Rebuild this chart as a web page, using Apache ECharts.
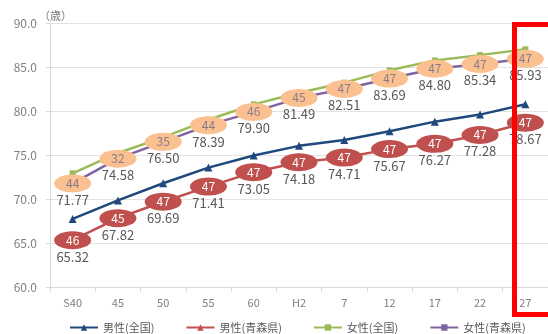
<!DOCTYPE html>
<html>
<head>
<meta charset="utf-8">
<script src="https://cdn.jsdelivr.net/npm/echarts@6/dist/echarts.min.js"></script>
<style>
  html, body { margin: 0; padding: 0; background: #fff; }
  #main { width: 548px; height: 334px; }
</style>
</head>
<body>
<div id="main"></div>
<script>
"use strict";
// 年次
var years = ['S40', '45', '50', '55', '60', 'H2', '7', '12', '17', '22', '27'];
// 平均寿命
var maleJapan = [67.74, 69.84, 71.79, 73.57, 74.95, 76.04, 76.70, 77.71, 78.79, 79.59, 80.77];
var maleAomori = [65.32, 67.82, 69.69, 71.41, 73.05, 74.18, 74.71, 75.67, 76.27, 77.28, 78.67];
var femaleJapan = [72.92, 75.23, 77.01, 79.00, 80.75, 82.07, 83.22, 84.62, 85.75, 86.35, 87.01];
var femaleAomori = [71.77, 74.58, 76.50, 78.39, 79.90, 81.49, 82.51, 83.69, 84.80, 85.34, 85.93];
// 全国順位
var maleRank = [46, 45, 47, 47, 47, 47, 47, 47, 47, 47, 47];
var femaleRank = [44, 32, 35, 44, 46, 45, 47, 47, 47, 47, 47];

var font = '"Noto Sans CJK JP", "Noto Sans", sans-serif';
var myChart = echarts.init(document.getElementById('main'));

function valueLabel() {
    return {
        show: true,
        position: 'bottom',
        distance: 7,
        color: '#595959',
        fontSize: 13,
        fontFamily: font,
        formatter: function (p) { return p.value.toFixed(2); }
    };
}

function rankSeries(name, values, ranks, bg, fg) {
    return {
        name: name,
        type: 'scatter',
        z: 4,
        symbol: 'circle',
        symbolSize: [37, 18],
        itemStyle: { color: bg, opacity: 1 },
        label: {
            show: true,
            position: 'inside',
            color: fg,
            fontSize: 12,
            fontFamily: font,
            formatter: function (p) { return String(ranks[p.dataIndex]); }
        },
        emphasis: { disabled: true },
        data: values
    };
}

var option = {
    animation: false,
    title: {
        text: '（歳）',
        left: 34,
        top: 5,
        textStyle: { fontSize: 11, color: '#7f7f7f', fontWeight: 'normal', fontFamily: font }
    },
    legend: {
        left: 64,
        top: 317,
        itemWidth: 28,
        itemHeight: 8,
        itemGap: 31,
        textStyle: { fontSize: 11, color: '#595959', fontFamily: font },
        data: ['男性(全国)', '男性(青森県)', '女性(全国)', '女性(青森県)']
    },
    grid: { left: 50, top: 23, width: 509, bottom: 47 },
    xAxis: {
        type: 'category',
        data: years,
        boundaryGap: true,
        axisLine: { lineStyle: { color: '#d9d9d9' } },
        axisTick: { show: true, lineStyle: { color: '#d9d9d9' }, length: 5 },
        axisLabel: { color: '#7f7f7f', fontSize: 11, fontFamily: font, margin: 10 }
    },
    yAxis: {
        type: 'value',
        min: 60,
        max: 90,
        interval: 5,
        axisLine: { show: true, lineStyle: { color: '#d9d9d9' } },
        axisTick: { show: true, lineStyle: { color: '#d9d9d9' }, length: 4 },
        splitLine: { lineStyle: { color: '#e3e3e3' } },
        axisLabel: {
            color: '#7f7f7f', fontSize: 12, fontFamily: font, margin: 13,
            formatter: function (v) { return v.toFixed(1); }
        }
    },
    series: [
        {
            name: '男性(全国)',
            type: 'line',
            data: maleJapan,
            symbol: 'triangle',
            symbolSize: 8,
            lineStyle: { color: '#1f497d', width: 2.5 },
            itemStyle: { color: '#1f497d' }
        },
        {
            name: '男性(青森県)',
            type: 'line',
            data: maleAomori,
            symbol: 'triangle',
            symbolSize: 6,
            lineStyle: { color: '#c0504d', width: 2.5 },
            itemStyle: { color: '#c0504d' },
            label: valueLabel()
        },
        {
            name: '女性(全国)',
            type: 'line',
            data: femaleJapan,
            symbol: 'rect',
            symbolSize: 6,
            lineStyle: { color: '#9bbb59', width: 2.5 },
            itemStyle: { color: '#9bbb59' }
        },
        {
            name: '女性(青森県)',
            type: 'line',
            data: femaleAomori,
            symbol: 'rect',
            symbolSize: 6,
            lineStyle: { color: '#8064a2', width: 2.5 },
            itemStyle: { color: '#8064a2' },
            label: valueLabel()
        },
        rankSeries('順位男性', maleAomori, maleRank, '#c0504d', '#ffffff'),
        rankSeries('順位女性', femaleAomori, femaleRank, '#fac090', '#8a7a8a')
    ],
    graphic: [
        {
            type: 'rect',
            left: 512,
            top: 22,
            z: 100,
            shape: { width: 60, height: 290 },
            style: { fill: 'none', stroke: '#ff0000', lineWidth: 5 }
        }
    ]
};

myChart.setOption(option);
</script>
</body>
</html>
